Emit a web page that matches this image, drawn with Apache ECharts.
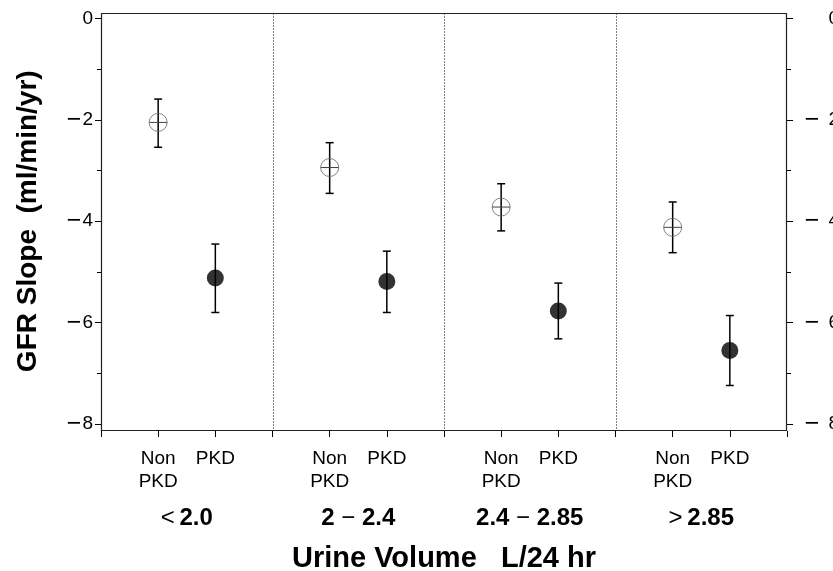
<!DOCTYPE html>
<html>
<head>
<meta charset="utf-8">
<script src="https://cdn.jsdelivr.net/npm/echarts@6/dist/echarts.min.js"></script>
<style>
html,body{margin:0;padding:0;background:#fff;}
#chart{width:833px;height:571px;}
</style>
</head>
<body>
<div id="chart"></div>
<script>
// ---- data ----
const groups = ['<2.0', '2\u22122.4', '2.4\u22122.85', '>2.85'];
const subLabels = ['Non\nPKD', 'PKD'];
const nonPkdMean = [-2.05, -2.94, -3.72, -4.12];
const nonPkdLow  = [-2.54, -3.45, -4.19, -4.62];
const nonPkdHigh = [-1.59, -2.45, -3.26, -3.62];
const pkdMean = [-5.12, -5.19, -5.77, -6.55];
const pkdLow  = [-5.80, -5.80, -6.32, -7.24];
const pkdHigh = [-4.45, -4.59, -5.22, -5.86];
const yTicks = [0, -2, -4, -6, -8];

// ---- layout ----
const FONT = 'Liberation Sans, Arial, Helvetica, sans-serif';
const G = {left: 101, right: 46, top: 18.5, bottom: 147};
const FRAME = {x: 101.5, y: 13.5, w: 685, h: 417};

const slots = 3; // per group: Non PKD at 1, PKD at 2
const nonX = groups.map((g, i) => i * slots + 1);
const pkdX = groups.map((g, i) => i * slots + 2);
const sepData = groups.slice(1).map((g, i) => [(i + 1) * slots, 0]);

const nonPts = nonX.map((x, i) => [x, nonPkdMean[i]]);
const pkdPts = pkdX.map((x, i) => [x, pkdMean[i]]);
const errData = nonX.map((x, i) => [x, nonPkdLow[i], nonPkdHigh[i]])
  .concat(pkdX.map((x, i) => [x, pkdLow[i], pkdHigh[i]]));

function yLabelLeft(v) {
  if (yTicks.indexOf(v) < 0) return '';
  return v < 0 ? '{m|\u2212}{d|' + Math.abs(v) + '}' : '{d|' + v + '}';
}
function yLabelRight(v) {
  if (yTicks.indexOf(v) < 0) return '';
  return v < 0 ? '{r|\u2212}{d|' + Math.abs(v) + '}' : '{d|' + v + '}';
}
function groupLabel(s) {
  if (s[0] === '<' || s[0] === '>') return '{n|' + s[0] + '\u2009}{b|' + s.slice(1) + '}';
  const parts = s.split('\u2212');
  return '{b|' + parts[0] + '}{n| \u2212 }{b|' + parts[1] + '}';
}
const tickRich = {
  m: {fontSize: 25, color: '#000', fontFamily: FONT, padding: [0, 1, 0, 0]},
  r: {fontSize: 25, color: '#000', fontFamily: FONT, padding: [0, 9, 0, 0]},
  d: {fontSize: 19, color: '#000', fontFamily: FONT}
};

const chart = echarts.init(document.getElementById('chart'), null, {renderer: 'canvas'});
const yAxisCommon = {
  type: 'value', min: -8, max: 0, interval: 2,
  axisLine: {show: false},
  axisTick: {show: true, inside: false, length: 6, lineStyle: {color: '#000', width: 1}},
  minorTick: {show: true, splitNumber: 2, length: 4, lineStyle: {color: '#000', width: 1}},
  splitLine: {show: false}, minorSplitLine: {show: false}
};
chart.setOption({
  animation: false,
  backgroundColor: '#fff',
  textStyle: {fontFamily: FONT},
  grid: {left: G.left, right: G.right, top: G.top, bottom: G.bottom, containLabel: false, outerBoundsMode: 'none'},
  xAxis: [{
    type: 'value', min: 0, max: groups.length * slots, interval: 1, position: 'bottom', offset: 7,
    axisLine: {show: false, onZero: false},
    axisTick: {show: true, inside: false, length: 6, lineStyle: {color: '#000', width: 1}},
    splitLine: {show: false},
    axisLabel: {
      formatter: v => { const r = v % slots; return r === 1 ? subLabels[0] : r === 2 ? subLabels[1] : ''; },
      fontSize: 19, lineHeight: 23, color: '#000', margin: 16, fontFamily: FONT
    },
    name: 'Urine Volume   L/24 hr', nameLocation: 'middle', nameGap: 113,
    nameTextStyle: {fontSize: 29, fontWeight: 'bold', color: '#000', fontFamily: FONT}
  }, {
    type: 'category', data: groups, position: 'bottom', offset: 7, boundaryGap: true,
    axisLine: {show: false, onZero: false}, axisTick: {show: false}, splitLine: {show: false},
    axisLabel: {
      formatter: groupLabel, margin: 75, color: '#000',
      rich: {
        b: {fontSize: 24, fontWeight: 'bold', color: '#000', fontFamily: FONT},
        n: {fontSize: 24, fontWeight: 'normal', color: '#000', fontFamily: FONT}
      }
    }
  }],
  yAxis: [Object.assign({}, yAxisCommon, {
    position: 'left',
    axisLabel: {formatter: yLabelLeft, rich: tickRich, fontSize: 19, color: '#000', margin: 8, fontFamily: FONT},
    name: 'GFR Slope  (ml/min/yr)', nameLocation: 'middle', nameGap: 59,
    nameTextStyle: {fontSize: 28, fontWeight: 'bold', color: '#000', fontFamily: FONT}
  }), Object.assign({}, yAxisCommon, {
    position: 'right',
    axisLabel: {formatter: yLabelRight, rich: tickRich, fontSize: 19, color: '#000', margin: 52, align: 'right', fontFamily: FONT}
  })],
  graphic: [{
    type: 'rect', silent: true, z: 10,
    shape: {x: FRAME.x, y: FRAME.y, width: FRAME.w, height: FRAME.h},
    style: {fill: 'none', stroke: '#222', lineWidth: 1.2}
  }],
  series: [{
    type: 'custom', name: 'separators', data: sepData, xAxisIndex: 0, yAxisIndex: 0, silent: true,
    renderItem: (params, api) => {
      const p = api.coord([api.value(0), 0]);
      const x = Math.round(p[0]) + 0.5;
      return {type: 'line', shape: {x1: x, y1: FRAME.y, x2: x, y2: FRAME.y + FRAME.h},
        style: {stroke: '#000', lineWidth: 1, lineDash: [1, 2]}};
    }
  }, {
    type: 'custom', name: 'errors', data: errData, xAxisIndex: 0, yAxisIndex: 0, z: 3,
    encode: {x: 0, y: [1, 2]},
    renderItem: (params, api) => {
      const x = api.value(0);
      const lo = api.coord([x, api.value(1)]);
      const hi = api.coord([x, api.value(2)]);
      const c = 4;
      const st = {stroke: '#000', lineWidth: 1.5};
      return {type: 'group', children: [
        {type: 'line', shape: {x1: lo[0], y1: lo[1], x2: hi[0], y2: hi[1]}, style: st},
        {type: 'line', shape: {x1: lo[0] - c, y1: lo[1], x2: lo[0] + c, y2: lo[1]}, style: st},
        {type: 'line', shape: {x1: hi[0] - c, y1: hi[1], x2: hi[0] + c, y2: hi[1]}, style: st}
      ]};
    }
  }, {
    type: 'custom', name: 'cross', data: nonPts, xAxisIndex: 0, yAxisIndex: 0, z: 4,
    renderItem: (params, api) => {
      const p = api.coord([api.value(0), api.value(1)]);
      return {type: 'line', shape: {x1: p[0] - 9, y1: p[1], x2: p[0] + 9, y2: p[1]},
        style: {stroke: '#444', lineWidth: 1}};
    }
  }, {
    type: 'scatter', name: 'Non PKD', data: nonPts, symbol: 'circle', symbolSize: 18, z: 5,
    itemStyle: {color: 'rgba(0,0,0,0)', borderColor: '#666', borderWidth: 1}
  }, {
    type: 'scatter', name: 'PKD', data: pkdPts, symbol: 'circle', symbolSize: 17, z: 5,
    itemStyle: {color: '#000', borderColor: '#000', borderWidth: 0}
  }]
});
</script>
</body>
</html>
